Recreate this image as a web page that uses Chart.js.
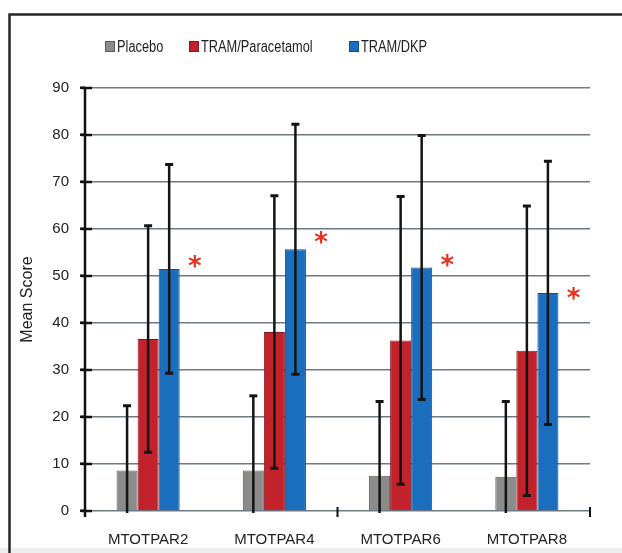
<!DOCTYPE html>
<html>
<head>
<meta charset="utf-8">
<script src="https://cdn.jsdelivr.net/npm/chart.js@4/dist/chart.umd.min.js"></script>
<style>
  html, body { margin: 0; padding: 0; background: #fff; }
  #wrap { width: 622px; height: 553px; position: relative; }
</style>
</head>
<body>
<div id="wrap"><canvas id="c"></canvas></div>
<script>
// Mean scores with standard deviations per time point
const categories = ['MTOTPAR2', 'MTOTPAR4', 'MTOTPAR6', 'MTOTPAR8'];
const seriesNames = ['Placebo', 'TRAM/Paracetamol', 'TRAM/DKP'];
const placeboMean = [8.6, 8.6, 7.5, 7.3];
const placeboSD = [13.8, 15.9, 15.8, 16.0];
const paracetamolMean = [36.6, 38.1, 36.3, 34.1];
const paracetamolSD = [24.1, 29.0, 30.6, 30.8];
const dkpMean = [51.5, 55.7, 51.8, 46.4];
const dkpSD = [22.2, 26.6, 28.1, 28.0];
// level at which the significance asterisk sits beside the TRAM/DKP bar
const significanceLevel = [53.0, 58.1, 53.2, 46.2];
const yTickValues = [0, 10, 20, 30, 40, 50, 60, 70, 80, 90];

const COLORS = ['#8b8b8b', '#c1222b', '#1b6dbd'];
const BORDERS = ['#5c5c5c', '#8a161c', '#124f8a'];
const FONT = "'Liberation Sans', Arial, sans-serif";

// Page background and the outer frame
const framePlugin = {
  id: 'frame',
  beforeDraw(chart) {
    const ctx = chart.ctx, w = chart.width, h = chart.height;
    ctx.save();
    ctx.fillStyle = '#ffffff';
    ctx.fillRect(0, 0, w, h);
    ctx.fillStyle = '#eeeeee';
    ctx.fillRect(0, h - 5, w, 5);
    ctx.strokeStyle = '#262626';
    ctx.lineWidth = 2.5;
    ctx.beginPath();
    ctx.moveTo(9.5, h);
    ctx.lineTo(9.5, 14.5);
    ctx.lineTo(w, 14.5);
    ctx.stroke();
    ctx.restore();
  }
};

// Legend row across the top, set in a condensed width
const legendPlugin = {
  id: 'topLegend',
  afterDraw(chart) {
    const ctx = chart.ctx;
    const starts = [105, 189, 349];
    const y = 47;
    ctx.save();
    ctx.font = '16px ' + FONT;
    ctx.textBaseline = 'middle';
    ctx.textAlign = 'left';
    seriesNames.forEach((name, i) => {
      ctx.fillStyle = COLORS[i];
      ctx.fillRect(starts[i], y - 6, 10, 11);
      ctx.strokeStyle = BORDERS[i];
      ctx.lineWidth = 1;
      ctx.strokeRect(starts[i] + 0.5, y - 5.5, 9, 10);
      ctx.fillStyle = '#1e1e1e';
      const natural = ctx.measureText(name).width;
      ctx.fillText(name, starts[i] + 12, y + 1, natural * 0.8);
    });
    ctx.restore();
  }
};

// Axis tick marks that cross the axis lines
const axisMarksPlugin = {
  id: 'axisMarks',
  afterDatasetsDraw(chart) {
    const ctx = chart.ctx, ys = chart.scales.y, xs = chart.scales.x;
    const area = chart.chartArea;
    ctx.save();
    ctx.strokeStyle = '#111';
    ctx.lineWidth = 2.5;
    ctx.beginPath();
    ctx.moveTo(area.left, ys.getPixelForValue(90));
    ctx.lineTo(area.left, area.bottom + 6);
    yTickValues.forEach(v => {
      const py = ys.getPixelForValue(v);
      ctx.moveTo(area.left - 4, py);
      ctx.lineTo(area.left + 7, py);
    });
    ctx.stroke();
    const half = (xs.getPixelForValue(1) - xs.getPixelForValue(0)) / 2;
    ctx.lineWidth = 2;
    ctx.beginPath();
    [1, 3].forEach(i => {
      const px = xs.getPixelForValue(i) + half;
      ctx.moveTo(px, area.bottom - 4);
      ctx.lineTo(px, area.bottom + 6);
    });
    ctx.stroke();
    ctx.restore();
  }
};

// Standard-deviation whiskers and significance markers
const errorBarPlugin = {
  id: 'errorBars',
  afterDatasetsDraw(chart) {
    const ctx = chart.ctx, ys = chart.scales.y;
    const sds = [placeboSD, paracetamolSD, dkpSD];
    ctx.save();
    ctx.strokeStyle = '#141414';
    chart.data.datasets.forEach((ds, di) => {
      const meta = chart.getDatasetMeta(di);
      meta.data.forEach((bar, i) => {
        const m = ds.data[i], sd = sds[di][i];
        const top = ys.getPixelForValue(m + sd);
        const lowVal = m - sd;
        const bottom = ys.getPixelForValue(Math.max(0, lowVal));
        ctx.lineWidth = 2.5;
        ctx.beginPath();
        ctx.moveTo(bar.x, top);
        ctx.lineTo(bar.x, bottom + (lowVal < 0 ? 2 : 0));
        ctx.stroke();
        ctx.lineWidth = 3;
        ctx.beginPath();
        ctx.moveTo(bar.x - 4, top);
        ctx.lineTo(bar.x + 4, top);
        if (lowVal >= 0) {
          ctx.moveTo(bar.x - 4, bottom);
          ctx.lineTo(bar.x + 4, bottom);
        }
        ctx.stroke();
      });
    });
    // asterisks to the right of the TRAM/DKP bars
    const dkpMeta = chart.getDatasetMeta(2);
    ctx.fillStyle = '#e8321f';
    ctx.font = 'bold 26px "DejaVu Sans", sans-serif';
    ctx.textAlign = 'center';
    ctx.textBaseline = 'alphabetic';
    const mt = ctx.measureText('*');
    const shift = (mt.actualBoundingBoxAscent - mt.actualBoundingBoxDescent) / 2;
    dkpMeta.data.forEach((bar, i) => {
      const cx = bar.x + bar.width / 2 + 15;
      const cy = ys.getPixelForValue(significanceLevel[i]);
      ctx.fillText('*', cx, cy + shift);
    });
    ctx.restore();
  }
};

const datasets = [placeboMean, paracetamolMean, dkpMean].map((vals, i) => ({
  label: seriesNames[i],
  data: vals,
  backgroundColor: COLORS[i],
  borderColor: BORDERS[i],
  borderWidth: 1,
  categoryPercentage: 0.5,
  barPercentage: 1.0
}));

new Chart(document.getElementById('c'), {
  type: 'bar',
  data: { labels: categories, datasets },
  plugins: [framePlugin, errorBarPlugin, axisMarksPlugin, legendPlugin],
  options: {
    responsive: true,
    maintainAspectRatio: false,
    animation: false,
    layout: { padding: { top: 88, right: 32, left: 0, bottom: 0 } },
    plugins: { legend: { display: false }, tooltip: { enabled: false } },
    scales: {
      x: {
        afterFit(scale) { scale.height = 42; },
        grid: { display: false },
        border: { display: false },
        ticks: { color: '#222', font: { family: FONT, size: 15 }, padding: 12, maxRotation: 0 }
      },
      y: {
        min: 0, max: 90,
        afterFit(scale) { scale.width = 85; },
        afterBuildTicks(scale) { scale.ticks = yTickValues.map(v => ({ value: v })); },
        grid: { color: '#6f7984', lineWidth: 1.5, tickLength: 5, tickColor: '#111', tickWidth: 2.5 },
        border: { display: false },
        ticks: { color: '#222', font: { family: FONT, size: 15 }, padding: 11 },
        title: { display: true, text: 'Mean Score', color: '#222', font: { family: FONT, size: 16 }, padding: { top: 18, bottom: 0 } }
      }
    }
  }
});
</script>
</body>
</html>
